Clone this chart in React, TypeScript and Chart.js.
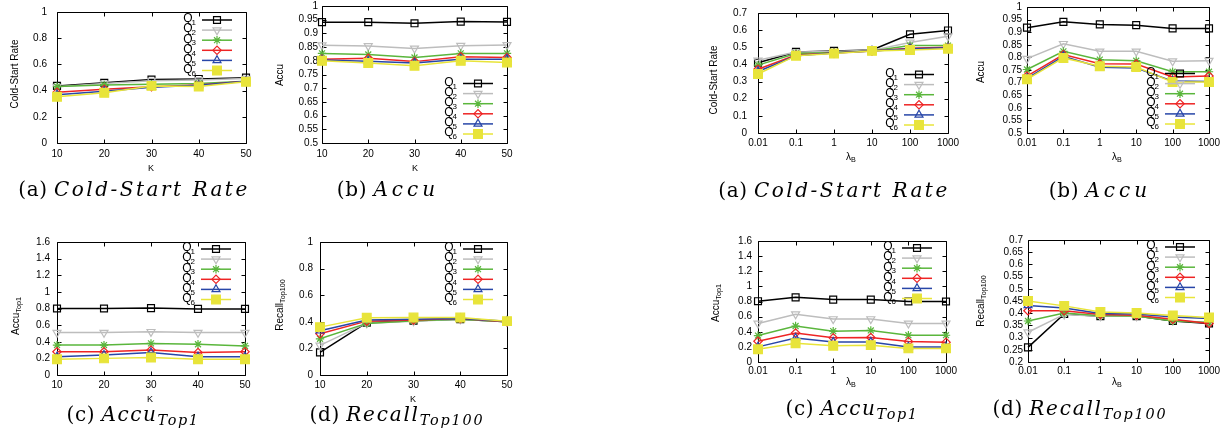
import React, { useEffect, useRef } from "react";
import { Chart, registerables } from "chart.js";
import { drawPoint } from "chart.js/helpers";

Chart.register(...registerables);

// ---------- data ----------
const K_VALUES = ["10", "20", "30", "40", "50"];
const LAMBDA_VALUES = ["0.01", "0.1", "1", "10", "100", "1000"];
const SERIES_BASE = "Q";
const SERIES_INDEX = ["1", "2", "3", "4", "5", "6"];

const K_COLD_START = [
  [0.436, 0.46, 0.484, 0.489, 0.499],
  [0.43, 0.455, 0.476, 0.481, 0.492],
  [0.431, 0.443, 0.448, 0.455, 0.472],
  [0.387, 0.41, 0.43, 0.443, 0.472],
  [0.368, 0.395, 0.426, 0.44, 0.472],
  [0.353, 0.383, 0.436, 0.431, 0.467],
];
const K_ACCU = [
  [0.941, 0.941, 0.937, 0.943, 0.942],
  [0.857, 0.854, 0.845, 0.855, 0.858],
  [0.827, 0.823, 0.812, 0.827, 0.827],
  [0.806, 0.809, 0.797, 0.815, 0.812],
  [0.803, 0.798, 0.792, 0.806, 0.806],
  [0.8, 0.792, 0.782, 0.8, 0.794],
];
const K_ACCU_TOP1 = [
  [0.8, 0.8, 0.805, 0.795, 0.795],
  [0.51, 0.51, 0.52, 0.51, 0.51],
  [0.36, 0.36, 0.38, 0.37, 0.35],
  [0.28, 0.28, 0.3, 0.27, 0.28],
  [0.22, 0.24, 0.27, 0.22, 0.22],
  [0.19, 0.2, 0.21, 0.19, 0.19],
];
const K_RECALL_TOP100 = [
  [0.17, 0.393, 0.408, 0.42, 0.4],
  [0.223, 0.39, 0.405, 0.42, 0.4],
  [0.272, 0.388, 0.408, 0.42, 0.4],
  [0.31, 0.405, 0.413, 0.425, 0.4],
  [0.333, 0.413, 0.42, 0.425, 0.405],
  [0.36, 0.43, 0.432, 0.432, 0.405],
];

const L_COLD_START = [
  [0.41, 0.473, 0.479, 0.484, 0.576, 0.598],
  [0.424, 0.472, 0.475, 0.482, 0.528, 0.565],
  [0.396, 0.464, 0.47, 0.479, 0.51, 0.51],
  [0.372, 0.455, 0.466, 0.479, 0.494, 0.5],
  [0.359, 0.451, 0.466, 0.479, 0.492, 0.497],
  [0.344, 0.451, 0.464, 0.479, 0.484, 0.492],
];
const L_ACCU = [
  [0.918, 0.941, 0.931, 0.928, 0.915, 0.915],
  [0.795, 0.854, 0.824, 0.824, 0.785, 0.787],
  [0.752, 0.824, 0.791, 0.787, 0.743, 0.743],
  [0.726, 0.811, 0.775, 0.774, 0.722, 0.726],
  [0.717, 0.804, 0.761, 0.758, 0.706, 0.704],
  [0.713, 0.798, 0.765, 0.762, 0.702, 0.702],
];
const L_ACCU_TOP1 = [
  [0.804, 0.855, 0.825, 0.825, 0.8, 0.8],
  [0.51, 0.632, 0.568, 0.568, 0.51, 0.51],
  [0.35, 0.476, 0.408, 0.417, 0.354, 0.354],
  [0.274, 0.383, 0.32, 0.324, 0.27, 0.26],
  [0.2, 0.316, 0.265, 0.265, 0.2, 0.2],
  [0.168, 0.248, 0.215, 0.223, 0.18, 0.18],
];
const L_RECALL_TOP100 = [
  [0.26, 0.397, 0.388, 0.388, 0.368, 0.358],
  [0.322, 0.395, 0.388, 0.388, 0.371, 0.362],
  [0.368, 0.401, 0.39, 0.389, 0.368, 0.362],
  [0.41, 0.41, 0.395, 0.392, 0.375, 0.358],
  [0.432, 0.421, 0.399, 0.397, 0.384, 0.378],
  [0.45, 0.43, 0.405, 0.401, 0.391, 0.382],
];

// ---------- styles ----------
const SERIES_STYLE = [
  { color: "#000000", bg: "rgba(0,0,0,0)", style: "rect", r: 4.9, rot: 0 },
  { color: "#bdbdbd", bg: "rgba(0,0,0,0)", style: "triangle", r: 4.6, rot: 180 },
  { color: "#5ab63c", bg: "rgba(0,0,0,0)", style: "star", r: 4.2, rot: 0 },
  { color: "#ee2424", bg: "rgba(0,0,0,0)", style: "rectRot", r: 4.2, rot: 0 },
  { color: "#2846a8", bg: "rgba(0,0,0,0)", style: "triangle", r: 4.6, rot: 0 },
  { color: "#e8e43a", bg: "#e8e43a", style: "rect", r: 6.2, rot: 0 },
];

const FONT = '"Liberation Sans", Arial, sans-serif';
const YW = 46;
const PT = 9;
const PR = 16;
const XH = 24;

type Spec = {
  labels: string[];
  data: number[][];
  min: number;
  max: number;
  step: number;
  l: number;
  t: number;
  r: number;
  b: number;
  legend: "tr" | "br";
  legendOffset: number;
  yPad: number;
  xPad: number;
};

const SPECS: Spec[] = [
  { labels: K_VALUES, data: K_COLD_START, min: 0, max: 1, step: 0.2, l: 57, t: 5, r: 246, b: 143, legend: "tr", legendOffset: 8, yPad: 10, xPad: 5 },
  { labels: K_VALUES, data: K_ACCU, min: 0.5, max: 1, step: 0.05, l: 322, t: 5, r: 507, b: 143, legend: "br", legendOffset: 9, yPad: 4, xPad: 5 },
  { labels: K_VALUES, data: K_ACCU_TOP1, min: 0, max: 1.6, step: 0.2, l: 57, t: 238, r: 245, b: 375, legend: "tr", legendOffset: 7, yPad: 7, xPad: 4 },
  { labels: K_VALUES, data: K_RECALL_TOP100, min: 0, max: 1, step: 0.2, l: 320, t: 238, r: 507, b: 375, legend: "tr", legendOffset: 7, yPad: 7, xPad: 4 },
  { labels: LAMBDA_VALUES, data: L_COLD_START, min: 0, max: 0.7, step: 0.1, l: 758, t: 5, r: 948, b: 133, legend: "br", legendOffset: 8, yPad: 11, xPad: 4 },
  { labels: LAMBDA_VALUES, data: L_ACCU, min: 0.5, max: 1, step: 0.05, l: 1027, t: 5, r: 1209, b: 133, legend: "br", legendOffset: 9, yPad: 5, xPad: 4 },
  { labels: LAMBDA_VALUES, data: L_ACCU_TOP1, min: 0, max: 1.6, step: 0.2, l: 758, t: 238, r: 946, b: 362, legend: "tr", legendOffset: 7, yPad: 6, xPad: 3 },
  { labels: LAMBDA_VALUES, data: L_RECALL_TOP100, min: 0.2, max: 0.7, step: 0.05, l: 1028, t: 238, r: 1209, b: 362, legend: "tr", legendOffset: 7, yPad: 5, xPad: 3 },
];

// ---------- plugins ----------
const framePlugin = {
  id: "gnuFrame",
  beforeDatasetsDraw(chart: any) {
    const { ctx, chartArea: a, scales } = chart;
    const L = Math.round(a.left) + 0.5;
    const R = Math.round(a.right) + 0.5;
    const T = Math.round(a.top) + 0.5;
    const B = Math.round(a.bottom) + 0.5;
    ctx.save();
    ctx.strokeStyle = "#000";
    ctx.lineWidth = 1;
    ctx.beginPath();
    ctx.rect(L, T, R - L, B - T);
    const tl = 4;
    scales.x.ticks.forEach((_t: any, i: number) => {
      const x = Math.round(scales.x.getPixelForTick(i)) + 0.5;
      ctx.moveTo(x, B);
      ctx.lineTo(x, B - tl);
      ctx.moveTo(x, T);
      ctx.lineTo(x, T + tl);
    });
    scales.y.ticks.forEach((t: any) => {
      const y = Math.round(scales.y.getPixelForValue(t.value)) + 0.5;
      ctx.moveTo(L, y);
      ctx.lineTo(L + tl, y);
      ctx.moveTo(R, y);
      ctx.lineTo(R - tl, y);
    });
    ctx.stroke();
    ctx.restore();
  },
};

const legendPlugin = {
  id: "gnuLegend",
  afterDatasetsDraw(chart: any, _args: any, opts: any) {
    const { ctx, chartArea: a } = chart;
    const ds = chart.data.datasets;
    const n = ds.length;
    const step = 10.1;
    const mx = a.right - 29;
    ds.forEach((d: any, i: number) => {
      const y =
        opts.pos === "tr"
          ? a.top + opts.offset + i * step
          : a.bottom - opts.offset - (n - 1 - i) * step;
      ctx.save();
      ctx.strokeStyle = d.borderColor;
      ctx.lineWidth = d.borderWidth;
      ctx.beginPath();
      ctx.moveTo(mx - 15, y);
      ctx.lineTo(mx + 15, y);
      ctx.stroke();
      ctx.fillStyle = d.pointBackgroundColor;
      ctx.strokeStyle = d.pointBorderColor;
      ctx.lineWidth = d.pointBorderWidth;
      drawPoint(
        ctx,
        {
          pointStyle: d.pointStyle,
          rotation: d.pointRotation || 0,
          radius: d.pointRadius,
          borderWidth: d.pointBorderWidth,
        } as any,
        mx,
        y
      );
      ctx.fillStyle = "#000";
      ctx.textAlign = "right";
      ctx.textBaseline = "middle";
      const right = mx - 21;
      ctx.font = `8px ${FONT}`;
      const sub = SERIES_INDEX[i];
      const sw = ctx.measureText(sub).width;
      ctx.fillText(sub, right, y + 3);
      ctx.font = `12px ${FONT}`;
      ctx.fillText(SERIES_BASE, right - sw + 1, y - 1);
      ctx.restore();
    });
  },
};

function fmt(v: number) {
  return String(parseFloat(Number(v).toFixed(2)));
}

function Panel({ spec }: { spec: Spec }) {
  const ref = useRef<HTMLCanvasElement>(null);
  const w = spec.r - spec.l + YW + PR;
  const h = spec.b - spec.t + PT + XH;
  useEffect(() => {
    const datasets = spec.data.map((vals, i) => {
      const s = SERIES_STYLE[i];
      return {
        label: SERIES_BASE + SERIES_INDEX[i],
        data: vals,
        borderColor: s.color,
        backgroundColor: s.bg,
        borderWidth: 1.5,
        pointStyle: s.style,
        pointRotation: s.rot,
        pointRadius: s.r,
        pointBorderWidth: 1.2,
        pointBorderColor: s.color,
        pointBackgroundColor: s.bg,
        tension: 0,
        clip: false,
        order: 5 - i,
      };
    });
    const chart = new Chart(ref.current!, {
      type: "line",
      data: { labels: spec.labels, datasets: datasets as any },
      options: {
        animation: false,
        responsive: false,
        events: [],
        layout: { padding: { top: PT, right: PR, left: 0, bottom: 0 } },
        plugins: {
          legend: { display: false },
          tooltip: { enabled: false },
          gnuLegend: { pos: spec.legend, offset: spec.legendOffset },
        } as any,
        scales: {
          x: {
            type: "category",
            offset: false,
            grid: { display: false, drawTicks: false },
            border: { display: false },
            ticks: {
              autoSkip: false,
              maxRotation: 0,
              padding: spec.xPad,
              color: "#000",
              font: { family: FONT, size: 10 },
            },
            afterFit: (s: any) => {
              s.height = XH;
            },
          },
          y: {
            type: "linear",
            min: spec.min,
            max: spec.max,
            grid: { display: false, drawTicks: false },
            border: { display: false },
            ticks: {
              stepSize: spec.step,
              autoSkip: false,
              maxTicksLimit: 30,
              padding: spec.yPad,
              color: "#000",
              font: { family: FONT, size: 10 },
              callback: (v: any) => fmt(v),
            },
            afterFit: (s: any) => {
              s.width = YW;
            },
          },
        },
      },
      plugins: [framePlugin, legendPlugin],
    });
    return () => chart.destroy();
  }, []);
  return (
    <canvas
      ref={ref}
      width={w}
      height={h}
      style={{ position: "absolute", left: spec.l - YW, top: spec.t - PT, width: w, height: h }}
    />
  );
}

function Txt({ x, y, rot, size, serif, children }: any) {
  return (
    <div
      style={{
        position: "absolute",
        left: x,
        top: y,
        transform: `translate(-50%, -50%)${rot ? " rotate(-90deg)" : ""}`,
        whiteSpace: "nowrap",
        fontFamily: serif ? '"DejaVu Serif", serif' : FONT,
        fontSize: size,
        lineHeight: 1,
        color: "#000",
      }}
    >
      {children}
    </div>
  );
}

const Sub = ({ children }: any) => (
  <span style={{ fontSize: "0.72em", position: "relative", top: "0.3em" }}>{children}</span>
);
const Lam = () => (
  <>
    λ<Sub>B</Sub>
  </>
);
const Cap = ({ tag, ls, children }: any) => (
  <>
    <span style={{ letterSpacing: "0.6px" }}>{tag}</span>{" "}
    <i style={{ letterSpacing: `${ls}px` }}>{children}</i>
  </>
);

export default function App() {
  return (
    <div
      style={{
        position: "fixed",
        left: 0,
        top: 0,
        width: 1227,
        height: 447,
        background: "#fff",
        overflow: "hidden",
      }}
    >
      {SPECS.map((s, i) => (
        <Panel key={i} spec={s} />
      ))}

      {/* y-axis titles */}
      <Txt x={15} y={74} rot size={10}>Cold-Start Rate</Txt>
      <Txt x={280} y={75} rot size={10}>Accu</Txt>
      <Txt x={16} y={316} rot size={10}>Accu<Sub>Top1</Sub></Txt>
      <Txt x={280} y={305} rot size={10}>Recall<Sub>Top100</Sub></Txt>
      <Txt x={714} y={80} rot size={10}>Cold-Start Rate</Txt>
      <Txt x={981} y={72} rot size={10}>Accu</Txt>
      <Txt x={716} y={303} rot size={10}>Accu<Sub>Top1</Sub></Txt>
      <Txt x={981} y={301} rot size={10}>Recall<Sub>Top100</Sub></Txt>

      {/* x-axis titles */}
      <Txt x={151} y={168} size={9}>K</Txt>
      <Txt x={415} y={168} size={9}>K</Txt>
      <Txt x={150} y={399} size={9}>K</Txt>
      <Txt x={413} y={399} size={9}>K</Txt>
      <Txt x={851} y={157} size={10}><Lam /></Txt>
      <Txt x={1117} y={157} size={10}><Lam /></Txt>
      <Txt x={851} y={382} size={10}><Lam /></Txt>
      <Txt x={1117} y={382} size={10}><Lam /></Txt>

      {/* captions */}
      <Txt x={134} y={189} size={20} serif><Cap tag="(a)" ls={2.5}>Cold-Start Rate</Cap></Txt>
      <Txt x={388} y={189} size={20} serif><Cap tag="(b)" ls={4}>Accu</Cap></Txt>
      <Txt x={133} y={414} size={20} serif><Cap tag="(c)" ls={1.6}>Accu<Sub>Top1</Sub></Cap></Txt>
      <Txt x={397} y={414} size={20} serif><Cap tag="(d)" ls={1.8}>Recall<Sub>Top100</Sub></Cap></Txt>
      <Txt x={834} y={190} size={20} serif><Cap tag="(a)" ls={2.5}>Cold-Start Rate</Cap></Txt>
      <Txt x={1100} y={190} size={20} serif><Cap tag="(b)" ls={4}>Accu</Cap></Txt>
      <Txt x={852} y={408} size={20} serif><Cap tag="(c)" ls={1.6}>Accu<Sub>Top1</Sub></Cap></Txt>
      <Txt x={1080} y={408} size={20} serif><Cap tag="(d)" ls={1.8}>Recall<Sub>Top100</Sub></Cap></Txt>
    </div>
  );
}
